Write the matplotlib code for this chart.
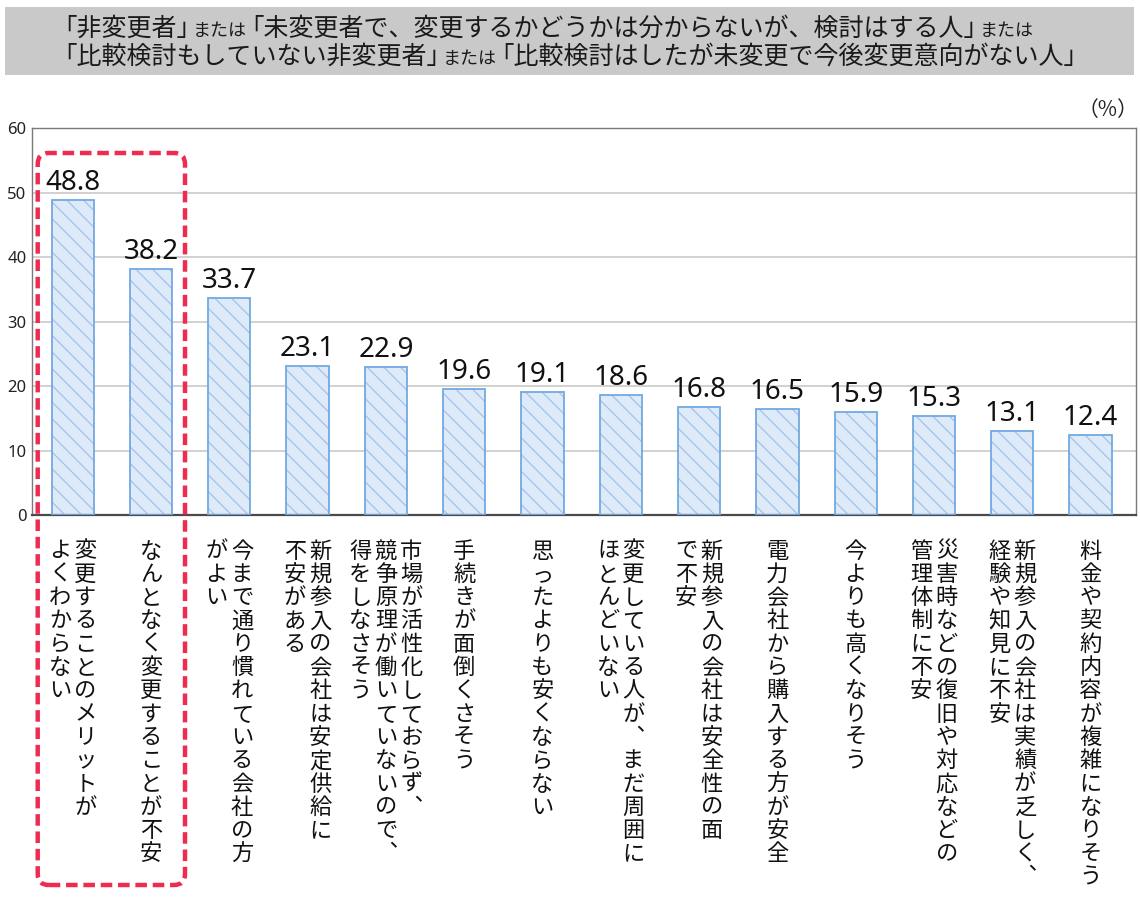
import matplotlib
matplotlib.use('Agg')
import matplotlib.pyplot as plt
import matplotlib.transforms as mtransforms
from matplotlib.patches import FancyBboxPatch, Rectangle

plt.rcParams['font.family'] = ['Noto Sans CJK JP', 'DejaVu Sans']
plt.rcParams['hatch.linewidth'] = 0.9

# data
values = [48.8, 38.2, 33.7, 23.1, 22.9, 19.6, 19.1, 18.6, 16.8, 16.5, 15.9, 15.3, 13.1, 12.4]
# each label is a list of vertical columns, first column drawn on the right
labels = [
    ['変更することのメリットが', 'よくわからない'],
    ['なんとなく変更することが不安'],
    ['今まで通り慣れている会社の方', 'がよい'],
    ['新規参入の会社は安定供給に', '不安がある'],
    ['市場が活性化しておらず︑', '競争原理が働いていないので︑', '得をしなさそう'],
    ['手続きが面倒くさそう'],
    ['思ったよりも安くならない'],
    ['変更している人が︑まだ周囲に', 'ほとんどいない'],
    ['新規参入の会社は安全性の面', 'で不安'],
    ['電力会社から購入する方が安全'],
    ['今よりも高くなりそう'],
    ['災害時などの復旧や対応などの', '管理体制に不安'],
    ['新規参入の会社は実績が乏しく︑', '経験や知見に不安'],
    ['料金や契約内容が複雑になりそう'],
]
yticks = [0, 10, 20, 30, 40, 50, 60]
title_line1 = [('｢非変更者｣', 'big'), ('または', 'small'),
               ('｢未変更者で、変更するかどうかは分からないが、検討はする人｣', 'big'), ('または', 'small')]
title_line2 = [('｢比較検討もしていない非変更者｣', 'big'), ('または', 'small'),
               ('｢比較検討はしたが未変更で今後変更意向がない人｣', 'big')]

W, H = 1140, 897
fig = plt.figure(figsize=(W / 100, H / 100), dpi=100)
ax = fig.add_axes([32 / W, 1 - 515 / H, (1136 - 32) / W, (515 - 128) / H])

x = list(range(len(values)))
# hatched fill, then the darker outline on top
ax.bar(x, values, width=0.54, color='#deeaf8', edgecolor='#9fc4ec', hatch='\\\\', linewidth=0, zorder=2)
ax.bar(x, values, width=0.54, facecolor='none', edgecolor='#72a9e3', linewidth=1.3, zorder=3)

ax.set_xlim(-0.52, 13.58)
ax.set_ylim(0, 60)
ax.set_yticks(yticks)
ax.set_xticks([])
ax.tick_params(axis='y', length=0, pad=4, labelsize=12, labelcolor='#222222')
for lab in ax.get_yticklabels():
    lab.set_family('Noto Sans')
ax.grid(axis='y', color='#c9c9c9', linewidth=1.2)
ax.set_axisbelow(True)
for side in ['left', 'top', 'right']:
    ax.spines[side].set_color('#7a7a7a')
    ax.spines[side].set_linewidth(1.0)
ax.spines['bottom'].set_color('#4a4a4a')
ax.spines['bottom'].set_linewidth(1.6)

# value labels above bars
val_tr = mtransforms.offset_copy(ax.transData, fig=fig, x=0, y=10, units='dots')
for i, v in enumerate(values):
    ax.text(i, v, f'{v:.1f}', transform=val_tr, ha='center', va='baseline',
            fontsize=20, family='Noto Sans', color='#111111')

# vertical category labels
base_tr = mtransforms.blended_transform_factory(ax.transData, fig.transFigure)
col_gap = 25.5
char_step = 23.3
for i, cols in enumerate(labels):
    n = len(cols)
    for j, col in enumerate(cols):
        dx = ((n - 1) / 2 - j) * col_gap
        tr = mtransforms.offset_copy(base_tr, fig=fig, x=dx, y=0, units='dots')
        for k, ch in enumerate(col):
            yc = 551 + k * char_step
            ax.text(i, 1 - yc / H, ch, transform=tr, ha='center', va='center',
                    fontsize=16, color='#111111', clip_on=False)

# red dashed frame round the first two bars
to_px = ax.transData.transform
left = to_px((0, 0))[0] - 35
right = to_px((1, 0))[0] + 34
top, bottom = H - 153, H - 885
frame = FancyBboxPatch((left, bottom), right - left, top - bottom,
                       boxstyle='round,pad=0,rounding_size=11',
                       transform=mtransforms.IdentityTransform(),
                       facecolor='none', edgecolor='#ef2b50', linewidth=3.2,
                       linestyle=(0, (2.6, 1.3)), zorder=5)
fig.add_artist(frame)

# gray title box
fig.add_artist(Rectangle((5, H - 75), 1129, 68, transform=mtransforms.IdentityTransform(),
                         facecolor='#c9c9c9', edgecolor='none', zorder=0))

renderer = fig.canvas.get_renderer()
sizes = {'big': 18.0, 'small': 13.0}


def draw_title_line(pieces, x0, y_base):
    xp = x0
    for s, kind in pieces:
        t = fig.text(xp / W, 1 - y_base / H, s, fontsize=sizes[kind], ha='left',
                     va='baseline', color='#1a1a1a')
        xp += t.get_window_extent(renderer).width + 4


draw_title_line(title_line1, 64, 36)
draw_title_line(title_line2, 64, 64)

fig.text(1138 / W, 1 - 110 / H, '（%）', ha='right', va='center', fontsize=15, color='#222222')

fig.savefig('out.png', dpi=100)
